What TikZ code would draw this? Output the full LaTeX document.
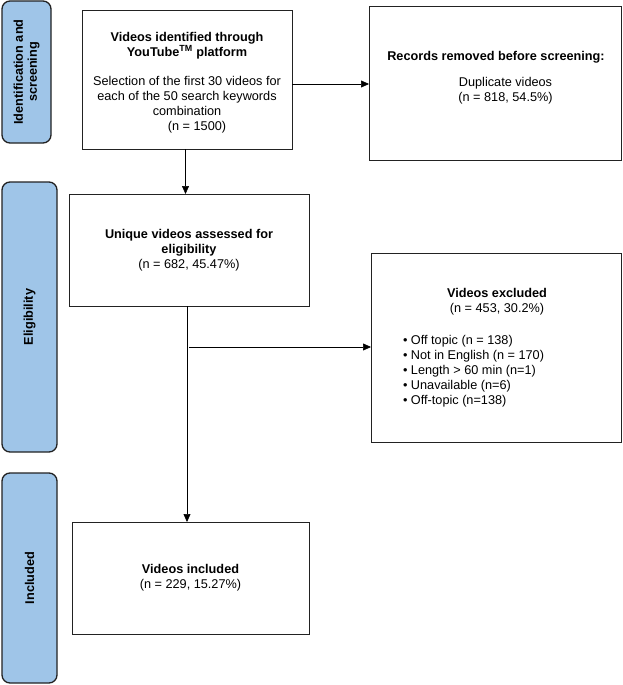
\documentclass[tikz,border=0pt]{standalone}
\usepackage{fontspec}
\setmainfont{Liberation Sans}
\usetikzlibrary{arrows.meta,calc}
\definecolor{barblue}{HTML}{9FC5E8}
\definecolor{edge}{HTML}{222222}
\begin{document}
\begin{tikzpicture}[x=1pt,y=-1pt,
  every node/.style={font=\fontsize{12.7}{15}\selectfont, inner sep=0pt, outer sep=0pt},
  box/.style={draw=edge, line width=1pt, fill=white, align=center},
  bar/.style={draw=edge, line width=1.3pt, fill=barblue, rounded corners=8pt},
  barlabel/.style={rotate=90, align=center, font=\fontsize{12.7}{14}\selectfont\bfseries},
  arr/.style={draw=black, line width=0.6pt, -{Triangle[length=8pt,width=7pt]}},
  conn/.style={draw=black, line width=0.6pt}
]
\useasboundingbox (0,0) rectangle (623,685);

% side bars
\node[bar, minimum width=49, minimum height=142] (bar1) at (26.5,72) {};
\node[barlabel] (bar1t) at (bar1.center) {Identification and\\screening};
\node[bar, minimum width=55, minimum height=270] (bar2) at (29.5,317) {};
\node[barlabel] (bar2t) at (bar2.center) {Eligibility};
\node[bar, minimum width=55, minimum height=210] (bar3) at (29.5,578) {};
\node[barlabel] (bar3t) at (bar3.center) {Included};

% box 1
\node[box, minimum width=210, minimum height=138] (box1) at (187,80) {};
\node[align=center] (box1t) at (187,82.5)
  {\textbf{Videos identified through}\\
   \textbf{YouTube\textsuperscript{TM} platform}\\[14pt]
   Selection of the first 30 videos for\\
   each of the 50 search keywords\\
   combination\\
   \hspace*{20pt}(n = 1500)};

% box 2
\node[box, minimum width=252, minimum height=153] (box2) at (495,83.5) {};
\node (box2h) at (496,57) {\textbf{Records removed before screening:}};
\node[align=center] (box2t) at (505.5,90.5) {Duplicate videos\\(n = 818, 54.5\%)};

% box 3
\node[box, minimum width=240, minimum height=112] (box3) at (189,250)
  {\textbf{Unique videos assessed for}\\
   \textbf{eligibility}\\
   (n = 682, 45.47\%)};

% box 5
\node[box, minimum width=250, minimum height=189] (box5) at (496,347.5) {};
\node[align=center] (box5h) at (497,301.5) {\textbf{Videos excluded}\\(n = 453, 30.2\%)};
\node[align=left, anchor=west] (box5l) at (403,371)
  {• Off topic (n = 138)\\
   • Not in English (n = 170)\\
   • Length > 60 min (n=1)\\
   • Unavailable (n=6)\\
   • Off-topic (n=138)};

% box 4
\node[box, minimum width=237, minimum height=112] (box4) at (190.5,578)
  {\textbf{Videos included}\\
   (n = 229, 15.27\%)};

% connectors
\coordinate (c1) at (185.5,0);
\coordinate (c2) at (0,84);
\coordinate (c3) at (187,0);
\coordinate (br) at (189,347);
\draw[arr] (box1.south -| c1) -- (box3.north -| c1);
\draw[arr] (box1.east |- c2) -- (box2.west |- c2);
\draw[arr] (box3.south -| c3) -- (box4.north -| c3);
\draw[arr] (br) -- (box5.west |- br);
\end{tikzpicture}
\end{document}
